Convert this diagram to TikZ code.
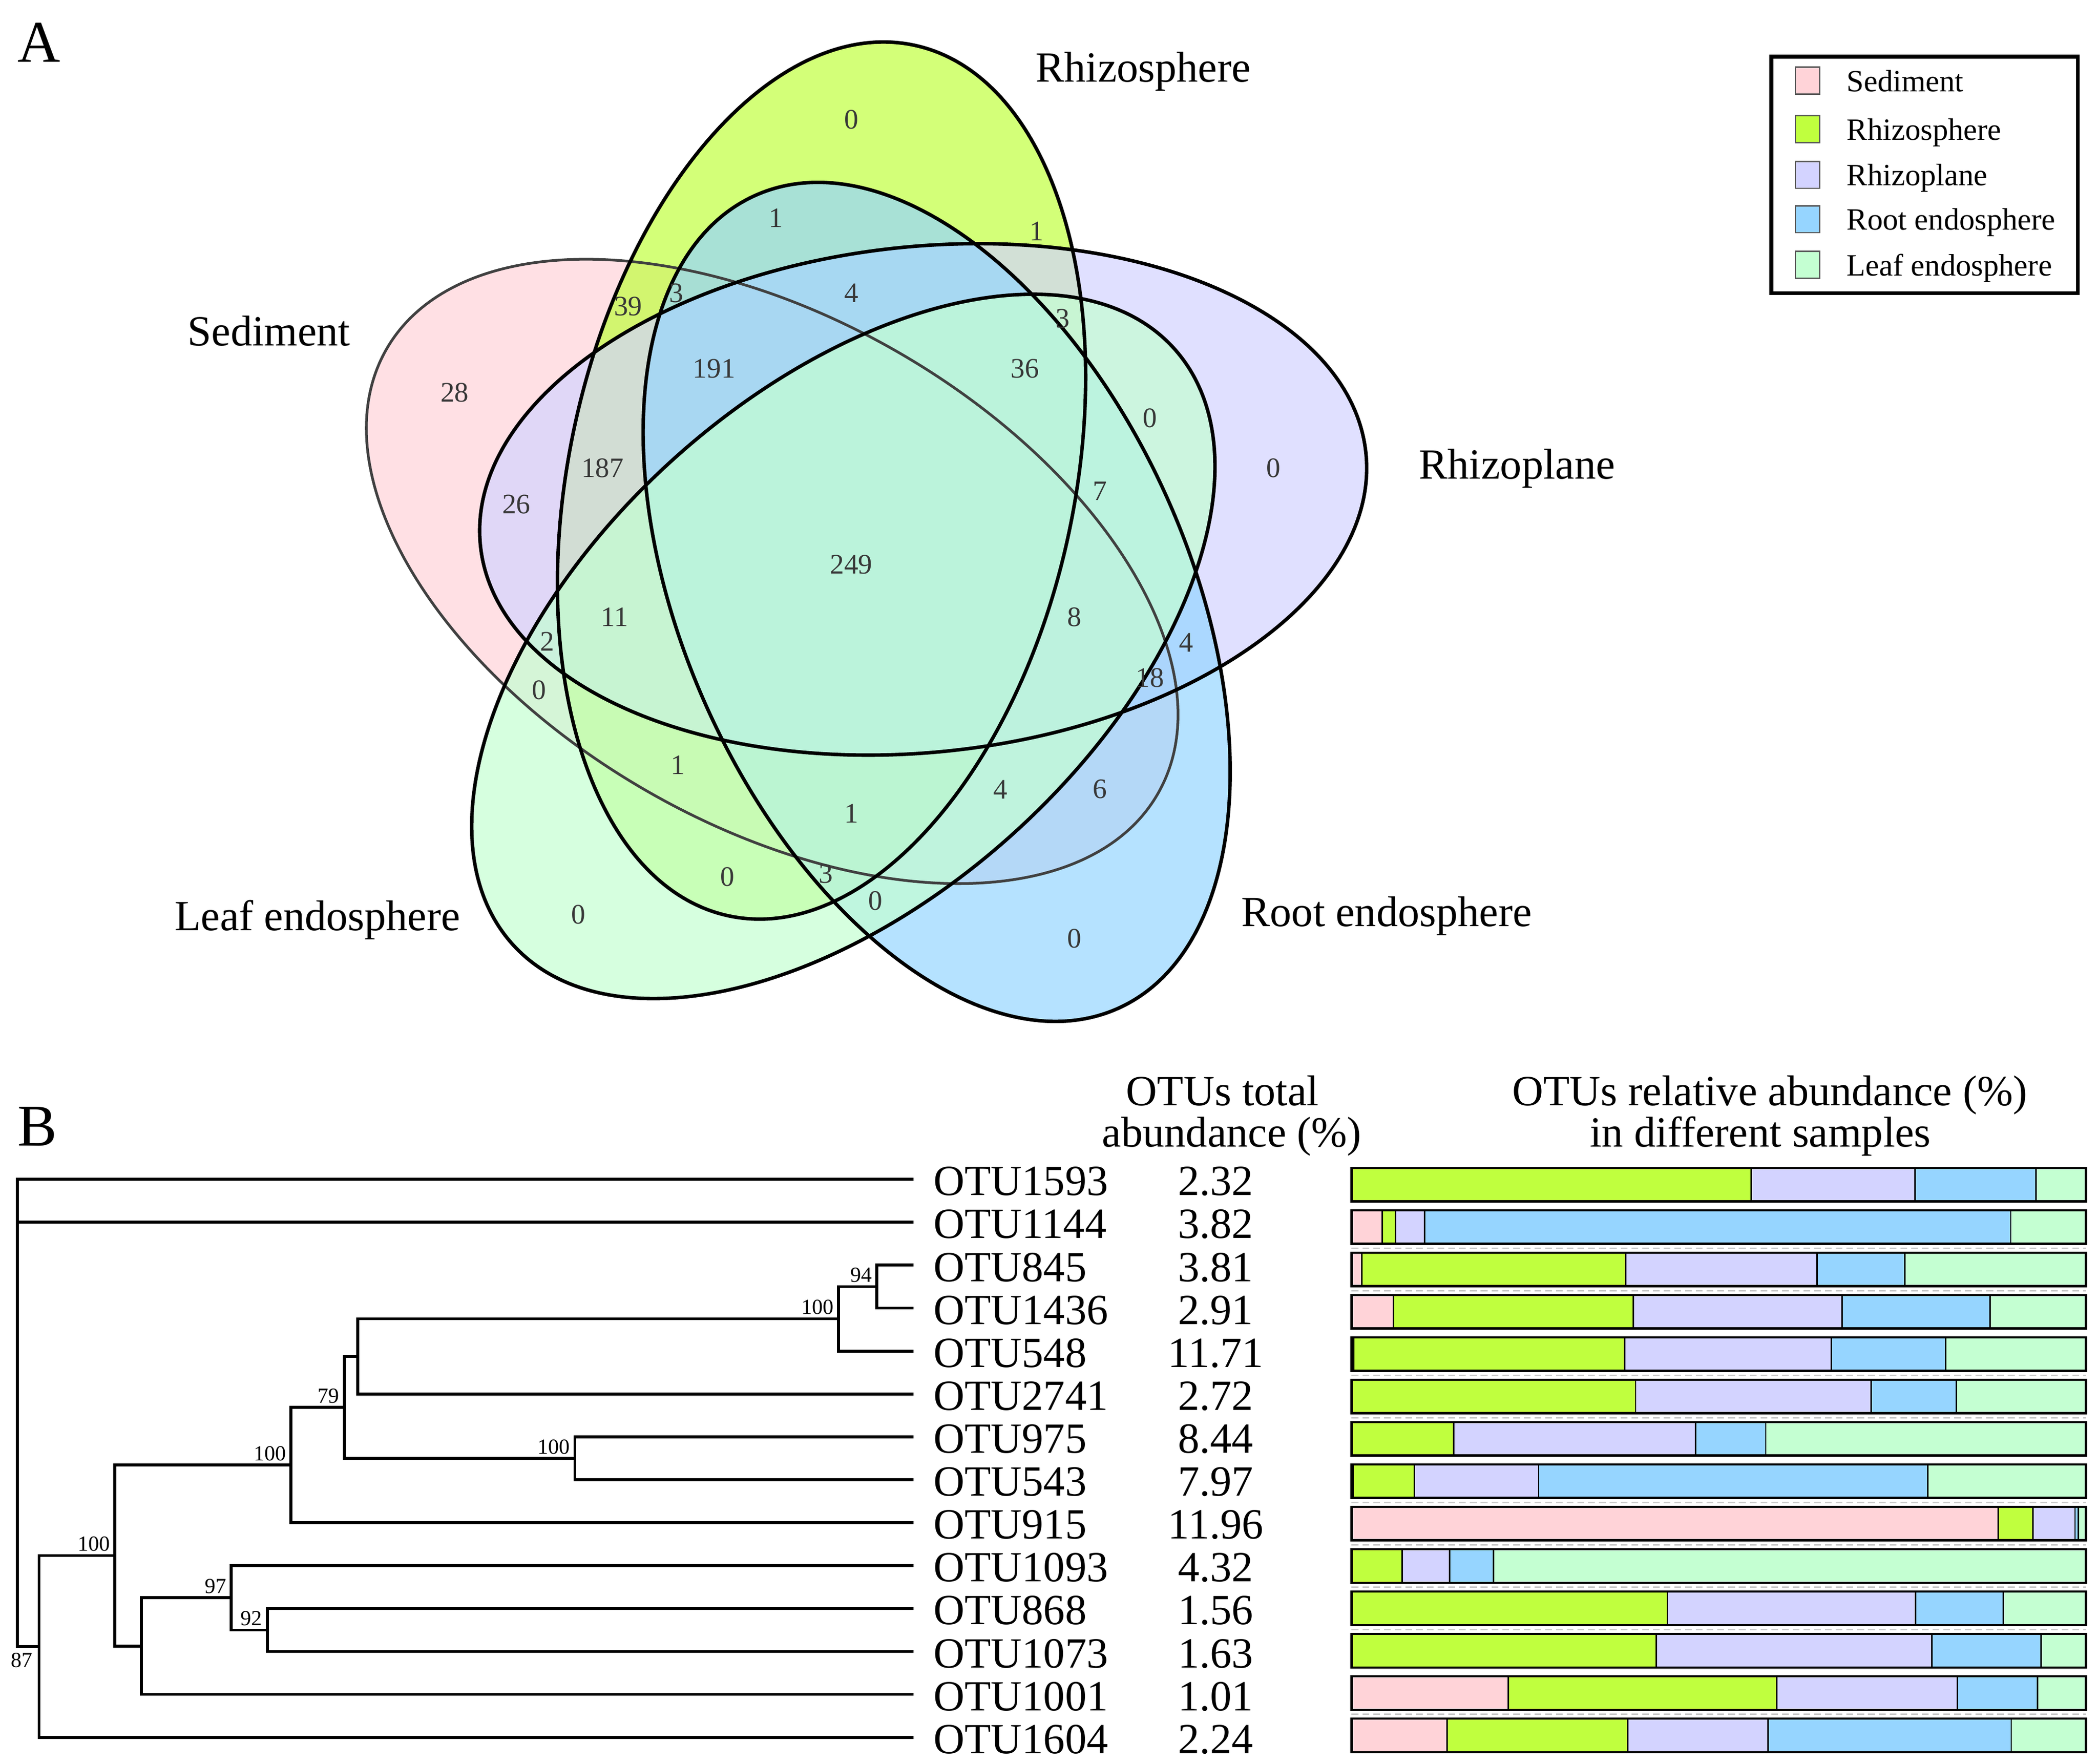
\documentclass[tikz,border=0pt]{standalone}
\usepackage{fontspec}
\setmainfont{Liberation Serif}
\usetikzlibrary{calc}
\definecolor{sedc}{RGB}{255,211,216}
\definecolor{rhsc}{RGB}{192,255,62}
\definecolor{rhpc}{RGB}{211,211,255}
\definecolor{rootc}{RGB}{150,213,255}
\definecolor{leafc}{RGB}{196,255,210}
\definecolor{numgray}{RGB}{55,55,55}
\definecolor{dashgray}{RGB}{200,200,200}
\newcommand\otubar[5]{%
  \pgfmathsetmacro\bt{-(881+31.5*#1-12.5)}%
  \pgfmathsetmacro\bb{\bt-25}%
  \pgfmathsetmacro\xa{1005+546*#2}%
  \pgfmathsetmacro\xb{1005+546*#3}%
  \pgfmathsetmacro\xc{1005+546*#4}%
  \pgfmathsetmacro\xd{1005+546*#5}%
  \fill[sedc] (1005,\bt) rectangle (\xa,\bb);
  \fill[rhsc] (\xa,\bt) rectangle (\xb,\bb);
  \fill[rhpc] (\xb,\bt) rectangle (\xc,\bb);
  \fill[rootc] (\xc,\bt) rectangle (\xd,\bb);
  \fill[leafc] (\xd,\bt) rectangle (1551,\bb);
  \draw[segline] (\xa,\bt) -- (\xa,\bb) (\xb,\bt) -- (\xb,\bb) (\xc,\bt) -- (\xc,\bb) (\xd,\bt) -- (\xd,\bb);
  \draw[barframe] (1005,\bt) rectangle (1551,\bb);
}
\begin{document}
\begin{tikzpicture}[x=1pt,y=1pt,
  vnum/.style={font=\fontsize{21}{25}\selectfont, text=numgray, inner sep=0, anchor=center},
  setlabel/.style={font=\fontsize{32}{38}\selectfont, inner sep=0, anchor=base},
  panel/.style={font=\fontsize{44}{50}\selectfont, inner sep=0, anchor=base west},
  legtxt/.style={font=\fontsize{23}{27}\selectfont, inner sep=0, anchor=base west},
  legsq/.style={draw=black!65, line width=1},
  otulab/.style={font=\fontsize{32}{38}\selectfont, inner sep=0, anchor=base west},
  abund/.style={font=\fontsize{32}{38}\selectfont, inner sep=0, anchor=base},
  header/.style={font=\fontsize{32}{38}\selectfont, inner sep=0, anchor=base},
  boot/.style={font=\fontsize{16}{19}\selectfont, inner sep=0, anchor=south east, xshift=-3.5, yshift=3},
  treeline/.style={line width=2.2, line cap=rect},
  segline/.style={draw=black, line width=1.1},
  barframe/.style={draw=black, line width=1.7},
  dashsep/.style={draw=dashgray, line width=1.2, dash pattern=on 5 off 3},
  vring/.style={draw=black, line width=2.6},
  vringthin/.style={draw=black!75, line width=2}
]
\useasboundingbox (0,0) rectangle (1560,-1311.8);

% ---------------- Panel A: Venn ----------------
\coordinate (vc) at (639,-416.4);
\coordinate (csed) at ($(vc)+(187.5:65.4)$);
\coordinate (crhs) at ($(vc)+(115.5:65.4)$);
\coordinate (crhp) at ($(vc)+(43.5:65.4)$);
\coordinate (croot) at ($(vc)+(331.5:65.4)$);
\coordinate (cleaf) at ($(vc)+(259.5:65.4)$);

\begin{scope}[fill opacity=0.7]
\fill[sedc, rotate around={150:(csed)}] (csed) ellipse [x radius=331, y radius=188];
\fill[rhsc, rotate around={78:(crhs)}] (crhs) ellipse [x radius=331, y radius=188];
\fill[rhpc, rotate around={6:(crhp)}] (crhp) ellipse [x radius=331, y radius=188];
\fill[rootc, rotate around={114:(croot)}] (croot) ellipse [x radius=331, y radius=188];
\fill[leafc, rotate around={42:(cleaf)}] (cleaf) ellipse [x radius=331, y radius=188];
\end{scope}
\draw[vringthin, rotate around={150:(csed)}] (csed) ellipse [x radius=331, y radius=188];
\draw[vring, rotate around={78:(crhs)}] (crhs) ellipse [x radius=331, y radius=188];
\draw[vring, rotate around={6:(crhp)}] (crhp) ellipse [x radius=331, y radius=188];
\draw[vring, rotate around={114:(croot)}] (croot) ellipse [x radius=331, y radius=188];
\draw[vring, rotate around={42:(cleaf)}] (cleaf) ellipse [x radius=331, y radius=188];

\node[panel] (pA) at (13,-46) {A};
\node[setlabel] (lrhs) at (850,-61) {Rhizosphere};
\node[setlabel] (lsed) at (200,-257) {Sediment};
\node[setlabel] (lrhp) at (1128,-356) {Rhizoplane};
\node[setlabel] (lleaf) at (236,-692) {Leaf endosphere};
\node[setlabel] (lroot) at (1031,-689) {Root endosphere};

\foreach \nx/\ny/\nt [count=\k] in {633/89/0, 577/162/1, 467/228/39, 503/218/3, 633/218/4, 771/172/1, 790/237/3,
  338/292/28, 531/274/191, 762/274/36, 855/311/0, 947/348/0, 448/348/187, 384/375/26, 818/365/7,
  633/420/249, 457/459/11, 799/459/8, 407/477/2, 882/478/4, 855/504/18, 401/513/0, 504/569/1,
  744/587/4, 818/587/6, 633/605/1, 541/652/0, 614/650/3, 651/670/0, 430/680/0, 799/698/0}
  \node[vnum] (vn\k) at (\nx,-\ny) {\nt};

% legend
\draw[line width=3] (1317,-42) rectangle (1545,-218);
\foreach \cy/\cc/\tt [count=\k] in {60/sedc/Sediment, 96/rhsc/Rhizosphere, 130/rhpc/Rhizoplane, 163/rootc/Root endosphere, 197/leafc/Leaf endosphere}{
  \filldraw[legsq, fill=\cc] (1335,-\cy+10) rectangle (1353,-\cy-10);
  \node[legtxt] (lg\k) at (1373,-\cy-8) {\tt};
}

% ---------------- Panel B ----------------
\node[panel] (pB) at (13,-852) {B};
\node[header] (h1) at (909,-822) {OTUs total};
\node[header] (h2) at (916,-853) {abundance (\%)};
\node[header] (h3) at (1316,-822) {OTUs relative abundance (\%)};
\node[header] (h4) at (1309,-853) {in different samples};

\foreach \nm/\ab [count=\i from 0] in {OTU1593/2.32, OTU1144/3.82, OTU845/3.81, OTU1436/2.91, OTU548/11.71,
  OTU2741/2.72, OTU975/8.44, OTU543/7.97, OTU915/11.96, OTU1093/4.32, OTU868/1.56, OTU1073/1.63,
  OTU1001/1.01, OTU1604/2.24}{
  \coordinate (l\i) at (678,{-(877+31.92*\i)});
  \node[otulab] (t\i) at (694,{-(877+31.92*\i)-12}) {\nm};
  \node[abund] (a\i) at (904,{-(877+31.92*\i)-12}) {\ab};
}

% tree internal nodes
\coordinate (n94) at (652,-956.8);
\coordinate (n100d) at (623.5,-980.7);
\coordinate (nu1) at (266,-1008.7);
\coordinate (n100c) at (427.5,-1084.5);
\coordinate (n79) at (256,-1046.6);
\coordinate (n100b) at (216.3,-1089.5);
\coordinate (n92) at (198.7,-1212.2);
\coordinate (n97) at (172,-1188.2);
\coordinate (nu2) at (105,-1224.1);
\coordinate (n100a) at (85.5,-1156.8);
\coordinate (n87) at (29,-1224.4);
\coordinate (root) at (13,-1224.4);

\draw[treeline]
  (n94) |- (l2) (n94) |- (l3)
  (n100d) |- (n94) (n100d) |- (l4)
  (nu1) |- (n100d) (nu1) |- (l5)
  (n100c) |- (l6) (n100c) |- (l7)
  (n79) |- (nu1) (n79) |- (n100c)
  (n100b) |- (n79) (n100b) |- (l8)
  (n92) |- (l10) (n92) |- (l11)
  (n97) |- (l9) (n97) |- (n92)
  (nu2) |- (n97) (nu2) |- (l12)
  (n100a) |- (n100b) (n100a) |- (nu2)
  (n87) |- (n100a) (n87) |- (l13)
  (root) |- (l0) (root) |- (l1) (root) -- (n87);

\node[boot] (b94) at (n94) {94};
\node[boot] (b100d) at (n100d) {100};
\node[boot] (b100c) at (n100c) {100};
\node[boot] (b79) at (n79) {79};
\node[boot] (b100b) at (n100b) {100};
\node[boot] (b97) at (n97) {97};
\node[boot] (b92) at (n92) {92};
\node[boot] (b100a) at (n100a) {100};
\node[font=\fontsize{16}{19}\selectfont, inner sep=0, anchor=north west] (b87) at (8,-1229) {87};

% bars
\foreach \g in {1,2,4,5,7,8,9,10,12}
  \draw[dashsep] (1005,{-(881+31.5*\g+15.75)}) -- (1551,{-(881+31.5*\g+15.75)});
\otubar{0}{0}{0.5445}{0.7675}{0.932}
\otubar{1}{0.0418}{0.06}{0.0997}{0.8976}
\otubar{2}{0.0142}{0.3733}{0.634}{0.7534}
\otubar{3}{0.0573}{0.3834}{0.6678}{0.8693}
\otubar{4}{0.0027}{0.372}{0.653}{0.8093}
\otubar{5}{0}{0.3868}{0.7075}{0.8235}
\otubar{6}{0}{0.1388}{0.4683}{0.564}
\otubar{7}{0.002}{0.0856}{0.2547}{0.7844}
\otubar{8}{0.8807}{0.928}{0.9852}{0.9899}
\otubar{9}{0}{0.0687}{0.1334}{0.1934}
\otubar{10}{0}{0.4299}{0.7682}{0.8875}
\otubar{11}{0}{0.4151}{0.7904}{0.9387}
\otubar{12}{0.2136}{0.5788}{0.8248}{0.934}
\otubar{13}{0.13}{0.376}{0.5674}{0.8983}
\end{tikzpicture}
\end{document}
